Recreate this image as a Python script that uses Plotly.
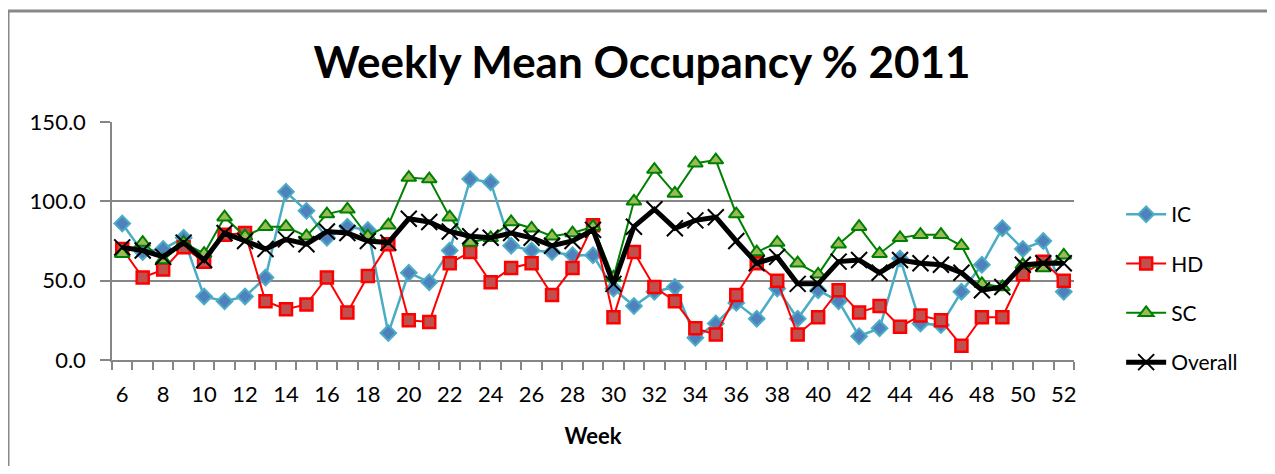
import plotly.graph_objects as go

weeks = list(range(6, 53))

ic = [86, 68, 70, 77, 40, 37, 40, 52, 106, 94, 77, 84,
      82, 17, 55, 49, 69, 114, 112, 72, 69, 68, 66,
      66, 45, 34, 43, 46, 14, 23, 36, 26, 45, 26,
      44, 37, 15, 20, 64, 23, 22, 43, 60, 83, 70, 75, 43]

hd = [70, 52, 57, 71, 62, 79, 80, 37, 32, 35, 52, 30,
      53, 73, 25, 24, 61, 68, 49, 58, 61, 41, 58,
      85, 27, 68, 46, 37, 20, 16, 41, 61, 50, 16,
      27, 44, 30, 34, 21, 28, 25, 9, 27, 27, 54, 62, 50]

sc = [67, 74, 63, 74, 67, 90, 78, 84, 84, 78, 92, 95,
      78, 85, 115, 114, 90, 74, 77, 87, 83, 78, 80,
      84, 52, 100, 120, 105, 124, 126, 92, 68, 74, 61,
      54, 73, 84, 67, 77, 79, 79, 72, 48, 46, 60, 58, 66]

overall = [71, 69, 65, 74, 63, 80, 75, 70, 76, 73, 81, 80,
           75, 74, 89, 87, 81, 78, 77, 80, 77, 72, 75,
           82, 48, 84, 95, 83, 88, 90, 75, 61, 65, 48,
           48, 62, 63, 55, 63, 61, 60, 55, 44, 46, 60, 61, 61]

x_tick_vals = list(range(6, 53, 2))
y_tick_vals = [0, 50, 100, 150]

FONT = "Lato"
GRID = "#868686"

# page body has an 8px margin: shrink the figure so no scrollbars appear
W, H = 1259, 458
L, T = 104, 114
PW, PH = 962, 238

fig = go.Figure()
fig.add_trace(go.Scatter(
    x=weeks, y=ic, name="IC", mode="lines+markers", legendgroup="a",
    line=dict(color="#4BACC6", width=2.5),
    marker=dict(symbol="diamond", size=12, color="#4F81BD",
                line=dict(color="#4BACC6", width=2))))
fig.add_trace(go.Scatter(
    x=weeks, y=hd, name="HD", mode="lines+markers", legendgroup="b",
    line=dict(color="#FF0000", width=2),
    marker=dict(symbol="square", size=12, color="#C0504D",
                line=dict(color="#FF0000", width=2.5))))
fig.add_trace(go.Scatter(
    x=weeks, y=sc, name="SC", mode="lines+markers", legendgroup="c",
    line=dict(color="#008000", width=2),
    marker=dict(symbol="triangle-up", size=13, color="#9BBB59",
                line=dict(color="#008000", width=2))))
fig.add_trace(go.Scatter(
    x=weeks, y=overall, name="Overall", mode="lines+markers", legendgroup="d",
    line=dict(color="#000000", width=5),
    marker=dict(symbol="x-thin", size=16, color="#000000",
                line=dict(color="#000000", width=2))))

fig.update_layout(
    width=W, height=H,
    margin=dict(l=L, r=W - L - PW, t=T, b=H - T - PH),
    paper_bgcolor="white", plot_bgcolor="white",
    font=dict(family=FONT, size=21, color="#000000"),
    title=dict(text="<b>Weekly Mean Occupancy % 2011</b>",
               font=dict(family=FONT, size=44, color="#000000"),
               x=(642 - 8) / W, xanchor="center", xref="container",
               y=1 - (63 - 8) / H, yanchor="middle", yref="container"),
    showlegend=True,
    legend=dict(x=1.049, xanchor="left", y=0.30, yanchor="middle",
                traceorder="grouped", tracegroupgap=19, itemwidth=40,
                font=dict(family=FONT, size=21, color="#000000"),
                bgcolor="rgba(0,0,0,0)"),
    xaxis=dict(range=[5.5, 52.5], tickmode="array", tickvals=x_tick_vals,
               ticktext=[str(v) for v in x_tick_vals], ticks="",
               ticklabelstandoff=14,
               showgrid=False, zeroline=False, showline=True,
               linecolor=GRID, linewidth=1.5,
               tickfont=dict(family=FONT, size=22, color="#000000"),
               minor=dict(tick0=5.5, dtick=1, ticks="outside", ticklen=8,
                          tickcolor=GRID, tickwidth=1.5, showgrid=False),
               title=dict(text="<b>Week</b>", standoff=22,
                          font=dict(family=FONT, size=22, color="#000000"))),
    yaxis=dict(range=[0, 150], tickmode="array", tickvals=y_tick_vals,
               tickformat=".1f", ticks="outside", ticklen=10,
               ticklabelstandoff=10,
               tickcolor=GRID, tickwidth=1.5,
               showgrid=True, gridcolor=GRID, gridwidth=1.5,
               zeroline=False, showline=True, linecolor=GRID, linewidth=1.5,
               tickfont=dict(family=FONT, size=22, color="#000000")),
)

fig.add_shape(type="rect", xref="paper", yref="paper",
              x0=(0 - L) / PW, x1=(W + 40 - L) / PW,
              y0=(T + PH - (H + 40)) / PH, y1=(T + PH - 3) / PH,
              line=dict(color="#888888", width=3), fillcolor="rgba(0,0,0,0)",
              layer="below")

fig.write_html("out.html")
